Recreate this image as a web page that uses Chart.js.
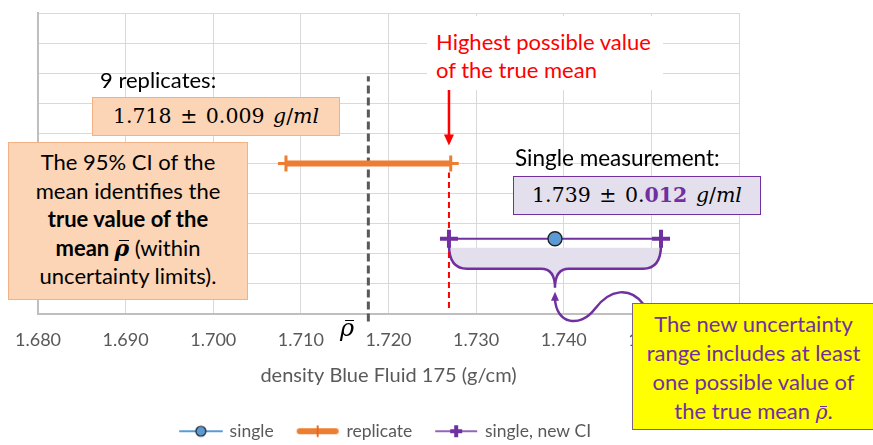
<!DOCTYPE html>
<html><head><meta charset="utf-8">
<script src="https://cdn.jsdelivr.net/npm/chart.js@4.4.0/dist/chart.umd.min.js"></script>
<style>
html,body{margin:0;padding:0;background:#fff;overflow:hidden;}
#wrap{position:relative;width:873px;height:445px;overflow:hidden;}
#c{position:absolute;left:0;top:0;}
.ov{position:absolute;box-sizing:border-box;font-family:Lato,sans-serif;white-space:nowrap;}
.math{font-family:'DejaVu Serif',serif;word-spacing:2px;}
.rb{position:relative;display:inline-block;font-family:'DejaVu Serif',serif;font-style:italic;line-height:1;}
.rb::after{content:'';position:absolute;left:0.2em;right:0.02em;top:0.18em;border-top:0.07em solid currentColor;}
</style></head><body>
<div id="wrap">
<canvas id="c" width="873" height="445" style="width:873px;height:445px"></canvas>

<div class="ov" style="left:427px;top:16px;width:236px;height:74px;background:#fff;color:#FF0000;font-size:22px;line-height:28px;padding:12px 0 0 9px;">Highest possible value<br>of the true mean</div>

<div class="ov" style="left:100px;top:66px;font-size:22px;line-height:28px;color:#000;">9 replicates:</div>

<div class="ov math" style="left:92px;top:97px;width:248px;height:39px;background:#FBD5B5;border:1.5px solid #F4B183;font-size:20.5px;line-height:36px;text-align:center;color:#000;">1.718 ± 0.009 <i>g</i>/<i>ml</i></div>

<div class="ov" style="left:8px;top:142px;width:240px;height:158px;background:#FBD5B5;border:1.5px solid #F4B183;font-size:22px;line-height:28.5px;text-align:center;padding-top:5px;color:#000;">The 95% CI of the<br>mean identifies the<br><b>true value of the</b><br><b>mean <span class="rb">ρ</span></b> (within<br>uncertainty limits).</div>

<div class="ov" style="left:515px;top:144px;font-size:22.5px;line-height:28px;color:#000;">Single measurement:</div>

<div class="ov math" style="left:513px;top:176px;width:248px;height:39px;background:#E4DFEC;border:1.5px solid #7030A0;font-size:20.5px;line-height:36px;text-align:center;color:#000;">1.739 ± 0.<b style="color:#7030A0">012</b> <i>g</i>/<i>ml</i></div>

<div class="ov" style="left:632px;top:303px;width:245px;height:127px;background:#FFFF00;border:1.5px solid #7F6084;font-size:22px;line-height:29px;color:#7030A0;padding-top:5px;"><div style="width:241px;text-align:center;">The new uncertainty<br>range includes at least<br>one possible value of<br>the true mean <span class="rb" style="font-size:20px">ρ</span>.</div></div>

<div class="ov" style="left:340px;top:314px;font-size:24px;line-height:26px;color:#000;"><span class="rb">ρ</span></div>
</div>

<script>
// ---- data ----
const xTicks = [1.680, 1.690, 1.700, 1.710, 1.720, 1.730, 1.740, 1.750, 1.760];
const legendNames = ['single', 'replicate', 'single, new CI'];
const singleX = [1.739];
const singleY = [2.5];
const replicateX = [1.7083, 1.7271];
const replicateY = [5, 5];
const newCIX = [1.7269, 1.7511];
const newCIY = [2.5, 2.5];
const rhoBarX = [1.7177, 1.7177];
const rhoBarY = [-0.25, 7.9];
const highestX = [1.7269, 1.7269];
const highestY = [0.2, 4.7];
const arrowY = [7.5, 5.6];

const pts = (xs, ys) => xs.map((v, i) => ({x: v, y: ys[i]}));

Chart.defaults.font.family = 'Lato';

function icon(kind) {
  const c = document.createElement('canvas');
  c.width = 44; c.height = 16;
  const g = c.getContext('2d');
  g.lineCap = 'round';
  if (kind === 0) {
    g.strokeStyle = '#5B9BD5'; g.lineWidth = 2;
    g.beginPath(); g.moveTo(1, 8); g.lineTo(43, 8); g.stroke();
    g.beginPath(); g.arc(22, 8, 5, 0, Math.PI * 2);
    g.fillStyle = '#5B9BD5'; g.fill();
    g.lineWidth = 1.2; g.strokeStyle = '#1f1f1f'; g.stroke();
  } else if (kind === 1) {
    g.strokeStyle = '#ED7D31'; g.lineWidth = 6;
    g.beginPath(); g.moveTo(4, 8); g.lineTo(40, 8); g.stroke();
    g.lineWidth = 2; g.strokeStyle = '#E06C20';
    g.beginPath(); g.moveTo(22, 3); g.lineTo(22, 13); g.stroke();
  } else {
    g.strokeStyle = '#7030A0'; g.lineWidth = 1.5; g.lineCap = 'butt';
    g.beginPath(); g.moveTo(1, 8); g.lineTo(43, 8); g.stroke();
    g.lineWidth = 4;
    g.beginPath(); g.moveTo(16, 8); g.lineTo(28, 8); g.moveTo(22, 2); g.lineTo(22, 14); g.stroke();
  }
  return c;
}
const icons = [icon(0), icon(1), icon(2)];

const annot = {
  id: 'annot',
  beforeDatasetsDraw(chart) {
    const {ctx, scales: {x, y}} = chart;
    const L = x.getPixelForValue(newCIX[0]), R = x.getPixelForValue(newCIX[1]);
    const M = x.getPixelForValue(singleX[0]);
    const ly = y.getPixelForValue(newCIY[0]);
    const y0 = ly + 6, yh = ly + 30, yt = ly + 49, r = 18, r2 = 14;
    const brace = (p) => {
      p.moveTo(L, y0);
      p.quadraticCurveTo(L, yh, L + r, yh);
      p.lineTo(M - r2, yh);
      p.quadraticCurveTo(M, yh, M, yt);
      p.quadraticCurveTo(M, yh, M + r2, yh);
      p.lineTo(R - r, yh);
      p.quadraticCurveTo(R, yh, R, y0);
    };
    ctx.save();
    ctx.beginPath();
    ctx.moveTo(L, ly + 9);
    ctx.lineTo(L, y0);
    ctx.quadraticCurveTo(L, yh, L + r, yh);
    ctx.lineTo(M - r2, yh);
    ctx.quadraticCurveTo(M, yh, M, yt);
    ctx.quadraticCurveTo(M, yh, M + r2, yh);
    ctx.lineTo(R - r, yh);
    ctx.quadraticCurveTo(R, yh, R, y0);
    ctx.lineTo(R, ly + 9);
    ctx.closePath();
    ctx.fillStyle = '#E4DFEC';
    ctx.fill();
    ctx.beginPath();
    brace(ctx);
    ctx.strokeStyle = '#7030A0';
    ctx.lineWidth = 2.5;
    ctx.stroke();
    ctx.restore();
  },
  afterDatasetsDraw(chart) {
    const {ctx, scales: {x, y}} = chart;
    // red arrow
    const X = x.getPixelForValue(highestX[0]);
    const yA = y.getPixelForValue(arrowY[0]), yB = y.getPixelForValue(arrowY[1]);
    ctx.save();
    ctx.strokeStyle = '#FF0000'; ctx.fillStyle = '#FF0000'; ctx.lineWidth = 2.5;
    ctx.beginPath(); ctx.moveTo(X, yA); ctx.lineTo(X, yB - 9); ctx.stroke();
    ctx.beginPath(); ctx.moveTo(X, yB); ctx.lineTo(X - 5, yB - 11); ctx.lineTo(X + 5, yB - 11); ctx.closePath(); ctx.fill();
    // curved purple arrow
    const M = x.getPixelForValue(singleX[0]);
    const ly = y.getPixelForValue(singleY[0]);
    ctx.strokeStyle = '#7030A0'; ctx.fillStyle = '#7030A0'; ctx.lineWidth = 2.5;
    ctx.beginPath();
    ctx.moveTo(M, ly + 60);
    ctx.bezierCurveTo(M + 1, ly + 85, M + 25, ly + 90, M + 40, ly + 70);
    ctx.bezierCurveTo(M + 55, ly + 50, M + 75, ly + 48, M + 88, ly + 65);
    ctx.stroke();
    ctx.beginPath(); ctx.moveTo(M, ly + 53); ctx.lineTo(M - 4, ly + 62); ctx.lineTo(M + 4, ly + 62); ctx.closePath(); ctx.fill();
    ctx.restore();
  }
};

new Chart(document.getElementById('c'), {
  type: 'scatter',
  data: {
    datasets: [
      {label: legendNames[0], data: pts(singleX, singleY), showLine: false, pointStyle: 'circle', pointRadius: 7,
       backgroundColor: '#5B9BD5', borderColor: '#1f1f1f', pointBorderWidth: 1.3},
      {label: legendNames[2], data: pts(newCIX, newCIY), showLine: true, borderColor: '#7030A0', borderWidth: 2,
       pointStyle: 'cross', pointRadius: 9, pointBorderWidth: 4, pointBorderColor: '#7030A0', backgroundColor: '#7030A0'},
      {label: legendNames[1], data: pts(replicateX, replicateY), showLine: true, borderColor: '#ED7D31', borderWidth: 6,
       pointStyle: 'cross', pointRadius: 8, pointBorderWidth: 3, pointBorderColor: '#ED7D31', backgroundColor: '#ED7D31'},
      {label: 'rho', data: pts(rhoBarX, rhoBarY), showLine: true, borderColor: '#595959', borderWidth: 3,
       borderDash: [8, 4], pointRadius: 0, clip: false},
      {label: 'highest', data: pts(highestX, highestY), showLine: true, borderColor: '#FF0000', borderWidth: 2,
       borderDash: [6, 4], pointRadius: 0}
    ]
  },
  options: {
    responsive: false,
    animation: false,
    layout: {padding: {left: 33, right: 134, top: 8, bottom: -5}},
    scales: {
      x: {
        type: 'linear', min: 1.68, max: 1.76,
        afterBuildTicks: s => { s.ticks = xTicks.map(v => ({value: v})); },
        afterFit: s => { s.height = 84.5; },
        ticks: {autoSkip: false, maxRotation: 0, padding: 15, color: '#595959', font: {size: 18},
                callback: v => Number(v).toFixed(3)},
        grid: {color: '#d9d9d9', drawTicks: false},
        border: {color: '#bfbfbf', width: 2},
        title: {display: true, text: 'density Blue Fluid 175 (g/cm)', color: '#595959', font: {size: 20},
                padding: {top: 0, bottom: 10.5}}
      },
      y: {
        min: 0, max: 10,
        ticks: {display: false, stepSize: 1},
        grid: {color: '#d9d9d9', drawTicks: false},
        border: {color: '#bfbfbf', width: 2}
      }
    },
    plugins: {
      tooltip: {enabled: false},
      legend: {
        position: 'bottom',
        labels: {
          usePointStyle: true, pointStyleWidth: 40, padding: 24, color: '#595959', font: {size: 17.5},
          generateLabels: () => legendNames.map((t, i) => ({
            text: t, pointStyle: icons[i], datasetIndex: i, hidden: false,
            fillStyle: 'transparent', strokeStyle: 'transparent', lineWidth: 0, fontColor: '#595959'
          }))
        }
      }
    }
  },
  plugins: [annot]
});
</script>
</body></html>
